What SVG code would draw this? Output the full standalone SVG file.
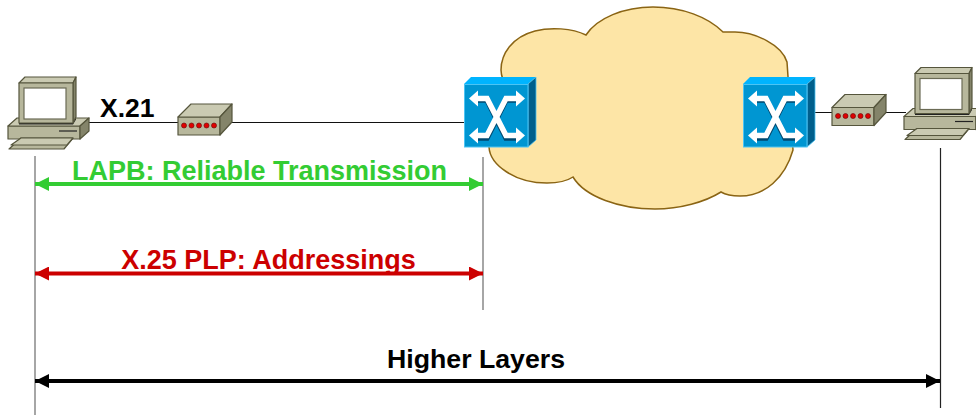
<svg xmlns="http://www.w3.org/2000/svg" width="976" height="415" viewBox="0 0 976 415">
<style>
text{font-family:"Liberation Sans",Arial,sans-serif;font-weight:700}
.wire{stroke:#111;stroke-width:1.2;fill:none}
.drop{stroke:#777;stroke-width:1.3;fill:none}
.dropk{stroke:#222;stroke-width:1.2;fill:none}
.pc{stroke:#55553c;stroke-width:1.2;stroke-linejoin:round}
.lt{fill:#cacab2}.md{fill:#b7b79c}.dk{fill:#84846a}
.x{fill:none;stroke:#fff;stroke-width:5.5;stroke-linejoin:miter}
.xs{fill:none;stroke:#00486f;stroke-width:5.5}
</style>
<defs>
<marker id="ag" markerUnits="userSpaceOnUse" viewBox="0 0 14 14" refX="14" refY="7" markerWidth="14" markerHeight="14" orient="auto-start-reverse"><path d="M0,0L14,7L0,14Z" fill="#33cc33"/></marker>
<marker id="ar" markerUnits="userSpaceOnUse" viewBox="0 0 14 14" refX="14" refY="7" markerWidth="14" markerHeight="14" orient="auto-start-reverse"><path d="M0,0L14,7L0,14Z" fill="#cc0000"/></marker>
<marker id="ak" markerUnits="userSpaceOnUse" viewBox="0 0 14 14" refX="14" refY="7" markerWidth="14" markerHeight="14" orient="auto-start-reverse"><path d="M0,0L14,7L0,14Z" fill="#000"/></marker>
<g id="pcIcon">
<path class="pc md" d="M8,126H80V139H8Z"/>
<path class="pc lt" d="M8,126L17,118H89L80,126Z"/>
<path class="pc dk" d="M80,126L89,118V131L80,139Z"/>
<path d="M59,131H77" stroke="#222" stroke-width="1.2"/>
<path class="pc md" d="M9,149L21,138H73L64,149Z"/>
<path class="pc lt" d="M11,145L21,138H73L67,145Z"/>
<path d="M19,123L73,123L76,118V78H25L19,83Z" fill="#222" stroke="none" transform="translate(0,1.5)"/>
<path class="pc lt" d="M19,83L25,77H76L73,83Z"/>
<path class="pc dk" d="M73,83L76,77V117L73,123Z"/>
<path class="pc md" d="M19,83H73V123H19Z"/>
<rect x="24" y="88" width="42" height="31" fill="#fff" stroke="#6b6b55" stroke-width="1.2"/>
</g>
<g id="modemIcon">
<path class="pc md" d="M178,117H220V135H178Z"/>
<path class="pc lt" d="M178,117L191,104H232L220,117Z"/>
<path class="pc dk" d="M220,117L232,104V122L220,135Z"/>
<g fill="#e00000" stroke="#701010" stroke-width=".7">
<circle cx="184" cy="125.5" r="2.5"/><circle cx="191.5" cy="125.5" r="2.5"/><circle cx="199" cy="125.5" r="2.5"/><circle cx="206.500" cy="125.5" r="2.5"/><circle cx="214" cy="125.5" r="2.5"/>
</g>
</g>
<g id="switchIcon">
<path d="M464,84L471,77H536L528,84Z" fill="#00b4ff"/>
<path d="M528,84L536,77V140L528,147Z" fill="#005f8c" stroke="#4cc4f4" stroke-width=".8"/>
<rect x="464.500" y="84.500" width="63.500" height="62.500" fill="#0096d2" stroke="#4cc4f4" stroke-width="1"/>
<path class="xs" d="M476,100H487L506,138H518M476,138H487L506,100H518"/>
<path class="x" d="M476,98.500H487L506,135.500H518M476,135.500H487L506,98.500H518"/>
<path fill="#fff" d="M469,98.500L478,90.500V106.500ZM525,98.500L516,90.500V106.500ZM469,135.500L478,127.500V143.500ZM525,135.500L516,127.500V143.500Z"/>
</g>
</defs>
<g id="cloud"><path d="M586,35C572,28 550,27 535,31C512,37 501,54 501,70C501,74 502,77 503,80L489,147C490,165 515,183 547,183C558,183 567,181 573,177C585,197 620,209 655,209C680,209 705,202 721,192C726,195 733,196 740,196C765,196 785,178 793,150L787,62C782,45 755,32 735,32C730,32 726,32 723,32C708,17 682,7 653,7C624,7 597,18 586,35Z" fill="#fde5a6" stroke="#8a6414" stroke-width="1.5"/></g>
<g id="connectors">
<path class="wire" d="M88,122.500H178M232,122.500H464M814,112.500H832M886,112.500H906"/>
<path class="drop" d="M35,156V415M483,157V310"/>
<path class="dropk" d="M940.500,148V408"/>
<path d="M35,184H483" stroke="#33cc33" stroke-width="4" marker-start="url(#ag)" marker-end="url(#ag)"/>
<path d="M35,273.500H483" stroke="#cc0000" stroke-width="4" marker-start="url(#ar)" marker-end="url(#ar)"/>
<path d="M35,381H940" stroke="#000" stroke-width="4" marker-start="url(#ak)" marker-end="url(#ak)"/>
</g>
<g id="pc-left"><use href="#pcIcon"/></g>
<g id="modem-left"><use href="#modemIcon"/></g>
<g id="switch-left"><use href="#switchIcon"/></g>
<g id="switch-right"><use href="#switchIcon" x="279"/></g>
<g id="modem-right"><use href="#modemIcon" x="654" y="-9.500"/></g>
<g id="pc-right"><use href="#pcIcon" x="896" y="-9.500"/></g>
<text x="100" y="117" font-size="26.500" fill="#000">X.21</text>
<text x="259.500" y="180" font-size="27" fill="#33cc33" text-anchor="middle">LAPB: Reliable Transmission</text>
<text x="268.500" y="269" font-size="27" fill="#cc0000" text-anchor="middle">X.25 PLP: Addressings</text>
<text x="476" y="368" font-size="26.700" fill="#000" text-anchor="middle">Higher Layers</text>
</svg>
